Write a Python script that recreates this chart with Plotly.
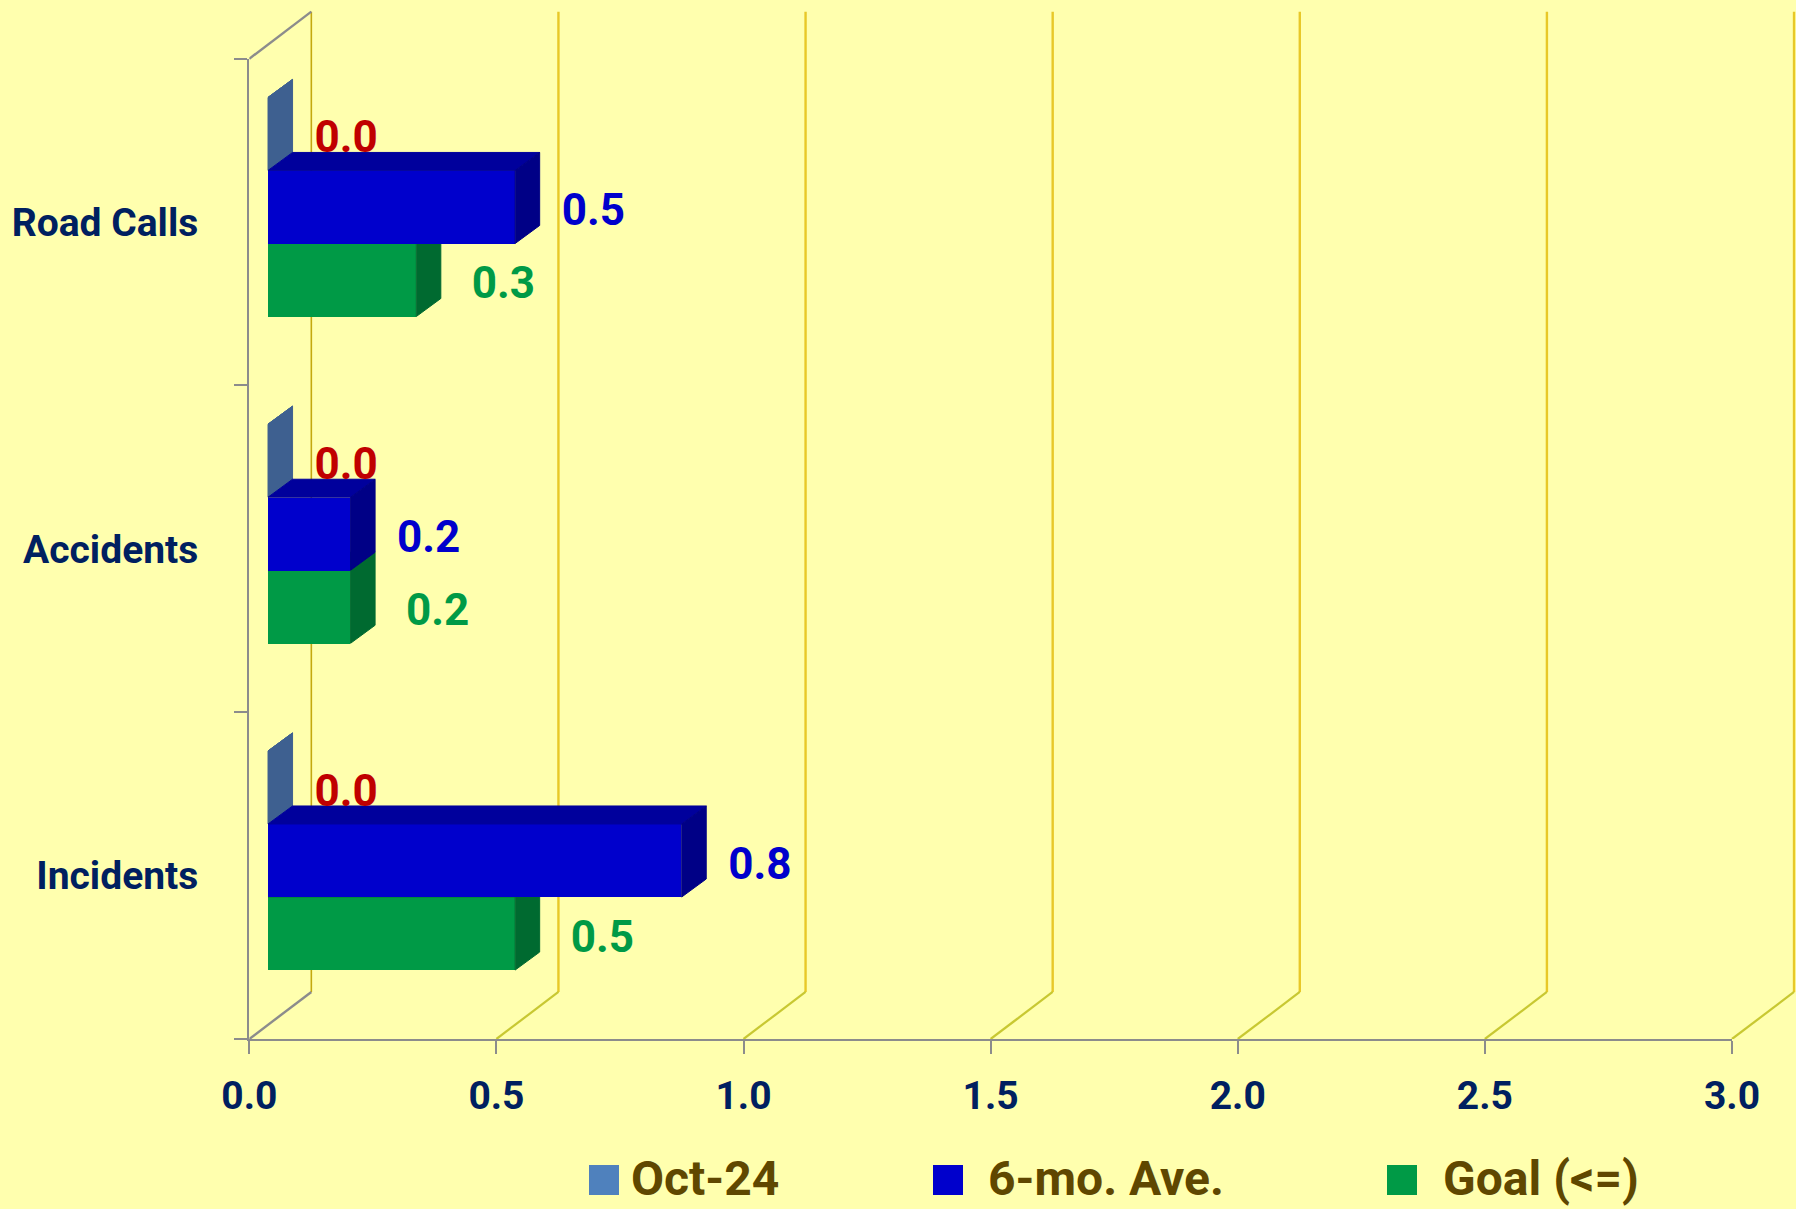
import plotly.graph_objects as go

categories = ["Incidents", "Accidents", "Road Calls"]
oct_24 = [0.0, 0.0, 0.0]
six_mo = [0.837, 0.167, 0.5]
goal = [0.5, 0.167, 0.3]
x_ticks = [0.0, 0.5, 1.0, 1.5, 2.0, 2.5, 3.0]
series_names = ["Oct-24", "6-mo. Ave.", "Goal (<=)"]

W, H = 1796, 1209
FONT = "Roboto, Liberation Sans, sans-serif"
BG = "#FFFFAE"
NAVY = "#002060"
AXIS = "#8C8C8C"
BAND = list(range(len(categories)))

# axis placement on the page (pixels) and the units-to-pixels scale it implies
LEFT, RIGHT, TOP, BOTTOM = 249.3, 1732.0, 58.7, 1039.0
PX_X = (RIGHT - LEFT) / 3
PX_Y = (BOTTOM - TOP) / 3

# projected depth of the 3-D box, in axis units
WALL_DX, WALL_DY = 0.1255, 0.144
BAR_DX, BAR_DY = 0.0496, 0.0551
BAR_X0 = 0.0379
BAR_H = 0.2235
GREEN_OFF, BLUE_OFF, OCT_OFF = 0.211, 0.211 + BAR_H, 0.211 + 2 * BAR_H

fig = go.Figure()

# wall and floor grid
vx, vy, dx, dy = [], [], [], []
for t in x_ticks:
    dx += [t, t + WALL_DX, None]
    dy += [0, WALL_DY, None]
    vx += [t + WALL_DX, t + WALL_DX, None]
    vy += [WALL_DY, 3 + WALL_DY, None]
fig.add_trace(go.Scatter(x=vx[3:], y=vy[3:], mode="lines", showlegend=False,
                         line=dict(color="#E8C828", width=2.4), hoverinfo="skip"))
fig.add_trace(go.Scatter(x=vx[:2], y=vy[:2], mode="lines", showlegend=False,
                         line=dict(color="#C4A810", width=1.6), hoverinfo="skip"))
fig.add_trace(go.Scatter(x=dx[3:], y=dy[3:], mode="lines", showlegend=False,
                         line=dict(color="#C8C832", width=2.2), hoverinfo="skip"))
fig.add_trace(go.Scatter(x=[0, WALL_DX, None, 0, WALL_DX], y=[0, WALL_DY, None, 3, 3 + WALL_DY],
                         mode="lines", showlegend=False,
                         line=dict(color=AXIS, width=2.4), hoverinfo="skip"))


def box(values, off, name, front, top, side, ax):
    xa, ya = f"x{ax}", f"y{ax}"
    fig.add_trace(go.Bar(y=BAND, x=values, base=[BAR_X0] * len(values), orientation="h",
                         width=BAR_H, offset=off, name=name, marker=dict(color=front, line=dict(width=0)),
                         showlegend=False, xaxis=xa, yaxis=ya))
    tx, ty, sx, sy = [], [], [], []
    for b, v in zip(BAND, values):
        e = BAR_X0 + v
        lo, hi = b + off, b + off + BAR_H
        tx += [BAR_X0, e, e + BAR_DX, BAR_X0 + BAR_DX, BAR_X0, None]
        ty += [hi, hi, hi + BAR_DY, hi + BAR_DY, hi, None]
        sx += [e, e + BAR_DX, e + BAR_DX, e, e, None]
        sy += [lo, lo + BAR_DY, hi + BAR_DY, hi, lo, None]
    for px, py, c in ((tx, ty, top), (sx, sy, side)):
        fig.add_trace(go.Scatter(x=px, y=py, mode="lines", fill="toself", fillcolor=c,
                                 line=dict(width=1, color=c), showlegend=False, hoverinfo="skip",
                                 xaxis=xa, yaxis=ya))


box(oct_24, OCT_OFF, series_names[0], "#4F81BD", "#3E6090", "#3E6090", 2)
box(goal, GREEN_OFF, series_names[2], "#009A46", "#007A36", "#006A30", 3)
box(six_mo, BLUE_OFF, series_names[1], "#0000CC", "#00009C", "#000086", 4)

# data labels
label_specs = [
    (oct_24, OCT_OFF, "#C00000", 22 / PX_X),
    (six_mo, BLUE_OFF, "#0000CC", 22 / PX_X),
    (goal, GREEN_OFF, "#009A46", 31 / PX_X),
]
for vals, off, col, gap in label_specs:
    fig.add_trace(go.Scatter(
        x=[BAR_X0 + v + BAR_DX + gap for v in vals],
        y=[b + off + BAR_H / 2 - 0.0225 for b in BAND],
        text=[f"{v:.1f}" for v in vals], mode="text", textposition="middle right",
        textfont=dict(family=FONT, size=44, color=col, weight="bold"),
        cliponaxis=False, showlegend=False, hoverinfo="skip", xaxis="x4", yaxis="y4"))

# legend row, placed in page fractions
swatch_x = [604 / W, 948 / W, 1402 / W]
label_x = [631 / W, 988 / W, 1443 / W]
swatch_y = 1 - 1180 / H
label_y = 1 - 1183 / H
fig.add_trace(go.Scatter(x=swatch_x, y=[swatch_y] * 3, mode="markers", showlegend=False, hoverinfo="skip",
                         marker=dict(symbol="square", size=30, color=["#4F81BD", "#0000CC", "#009A46"],
                                     line=dict(width=0)),
                         cliponaxis=False, xaxis="x5", yaxis="y5"))
fig.add_trace(go.Scatter(x=label_x, y=[label_y] * 3, mode="text", text=series_names, textposition="middle right",
                         textfont=dict(family=FONT, size=48, color="#5F4700", weight="bold"),
                         showlegend=False, hoverinfo="skip", cliponaxis=False, xaxis="x5", yaxis="y5"))

hidden = dict(visible=False, fixedrange=True)
layout = dict(
    width=W, height=H, autosize=False, margin=dict(l=0, r=0, t=0, b=0, autoexpand=False),
    paper_bgcolor=BG, plot_bgcolor="rgba(0,0,0,0)", showlegend=False, bargap=0,
    # grid layer: same scale as the value axes, but its area reaches the page edge
    xaxis=dict(domain=[LEFT / W, 1], range=[0, (W - LEFT) / PX_X], anchor="y", **hidden),
    yaxis=dict(domain=[1 - BOTTOM / H, 1], range=[0, BOTTOM / PX_Y], anchor="x", **hidden),
    xaxis2=dict(domain=[LEFT / W, RIGHT / W], range=[0, 3], anchor="y2", tickvals=x_ticks,
                ticktext=[f"{t:.1f}" for t in x_ticks], ticks="outside", ticklen=13, tickwidth=2.4, tickcolor=AXIS,
                showline=True, linecolor=AXIS, linewidth=2.4, showgrid=False, zeroline=False,
                ticklabelstandoff=8, automargin=False,
                tickfont=dict(family=FONT, size=39, color=NAVY, weight="bold")),
    yaxis2=dict(domain=[1 - BOTTOM / H, 1 - TOP / H], range=[0, 3], anchor="x2", tickvals=[b + 0.5 for b in BAND],
                ticktext=categories, ticks="", showline=True, linecolor=AXIS, linewidth=2.4,
                showgrid=False, zeroline=False, ticklabelstandoff=41, automargin=False,
                minor=dict(tickvals=[0, 1, 2, 3], ticks="outside", ticklen=13, tickwidth=2.4, tickcolor=AXIS,
                           showgrid=False),
                tickfont=dict(family=FONT, size=39, color=NAVY, weight="bold")),
    xaxis5=dict(domain=[0, 1], range=[0, 1], anchor="y5", **hidden),
    yaxis5=dict(domain=[0, 1], range=[0, 1], anchor="x5", **hidden),
)
for i in (3, 4):
    layout[f"xaxis{i}"] = dict(overlaying="x2", range=[0, 3], anchor=f"y{i}", **hidden)
    layout[f"yaxis{i}"] = dict(overlaying="y2", range=[0, 3], anchor=f"x{i}", **hidden)
fig.update_layout(**layout)

fig.write_html("out.html", config=dict(displayModeBar=False),
               post_script="document.body.style.margin='0';document.body.style.overflow='hidden';")
